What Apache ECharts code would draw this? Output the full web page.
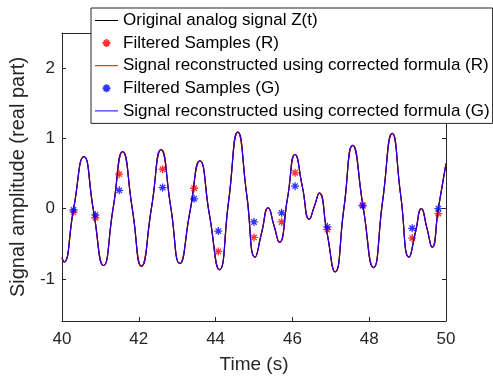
<!DOCTYPE html>
<html>
<head>
<meta charset="utf-8">
<script src="https://cdn.jsdelivr.net/npm/echarts@6/dist/echarts.min.js"></script>
<style>
  html, body { margin: 0; padding: 0; background: #fff; }
  #chart { width: 493px; height: 379px; }
</style>
</head>
<body>
<div id="chart"></div>
<script>
// analog signal Z(t) (peaks, troughs and crossings)
var sigT = [40.00, 40.05, 40.30, 40.57, 40.82, 41.08, 41.33, 41.58, 41.83, 42.07,
            42.33, 42.58, 42.83, 43.07, 43.33, 43.59, 43.84, 44.10, 44.34, 44.58,
            44.81, 45.03, 45.20, 45.37, 45.52, 45.66, 45.87, 46.07, 46.26, 46.44,
            46.57, 46.70, 46.90, 47.11, 47.34, 47.57, 47.84, 48.11, 48.35, 48.60,
            48.82, 49.04, 49.20, 49.36, 49.50, 49.64, 49.80, 50.00];
var sigZ = [-0.70, -0.76, -0.01, 0.74, -0.03, -0.81, 0.00, 0.81, 0.00, -0.82,
            0.01, 0.84, 0.03, -0.78, -0.05, 0.68, -0.09, -0.87, 0.11, 1.09,
            0.20, -0.69, -0.34, 0.01, -0.24, -0.48, 0.14, 0.77, 0.31, -0.15,
            0.03, 0.22, -0.34, -0.90, 0.00, 0.90, 0.03, -0.84, 0.11, 1.07,
            0.19, -0.69, -0.35, 0.00, -0.27, -0.55, 0.00, 0.64];

// filtered samples
var sampT = [40.30, 40.87, 41.49, 42.62, 43.44, 44.07, 45.00, 45.72, 46.07, 46.91, 47.83, 49.12, 49.80];
var sampR = [-0.05, -0.13, 0.49, 0.56, 0.29, -0.61, -0.41, -0.19, 0.51, -0.30, 0.05, -0.42, -0.07];
var sampG = [-0.02, -0.09, 0.26, 0.30, 0.14, -0.32, -0.19, -0.06, 0.32, -0.26, 0.04, -0.28, 0.00];

var xTicks = [40, 42, 44, 46, 48, 50];
var yTicks = [-1, 0, 1, 2];

function zip(a, b) {
    var out = [];
    for (var i = 0; i < a.length; i++) out.push([a[i], b[i]]);
    return out;
}

var FONT = 'Liberation Sans';
var AX = '#262626';
// MATLAB style '*' marker
var STAR = 'path://M0,5L10,5M5,0L5,10M1.6,1.6L8.4,8.4M8.4,1.6L1.6,8.4';
// thin bar used as legend icon of the lines
var BAR = 'path://M0,0H23V1H0Z';

var names = [
    'Original analog signal Z(t)',
    'Filtered Samples (R)',
    'Signal reconstructed using corrected formula (R)',
    'Filtered Samples (G)',
    'Signal reconstructed using corrected formula (G)'
];

function xAx(pos) {
    return {
        type: 'value', position: pos, min: 40, max: 50,
        axisLine: { show: true, onZero: false, lineStyle: { color: AX, width: 1 } },
        axisTick: { show: true, inside: true, length: 4, customValues: xTicks, lineStyle: { color: AX } },
        axisLabel: { show: pos === 'bottom', customValues: xTicks, margin: 10,
                     fontFamily: FONT, fontSize: 17, color: AX },
        splitLine: { show: false },
        name: pos === 'bottom' ? 'Time (s)' : '',
        nameLocation: 'middle', nameGap: 34,
        nameTextStyle: { fontFamily: FONT, fontSize: 19, color: AX }
    };
}
function yAx(pos) {
    return {
        type: 'value', position: pos, min: -1.6, max: 2.5,
        axisLine: { show: true, onZero: false, lineStyle: { color: AX, width: 1 } },
        axisTick: { show: true, inside: true, length: 4, customValues: yTicks, lineStyle: { color: AX } },
        axisLabel: { show: pos === 'left', customValues: yTicks, margin: 7,
                     fontFamily: FONT, fontSize: 17, color: AX },
        splitLine: { show: false },
        name: pos === 'left' ? 'Signal amplitude (real part)' : '',
        nameLocation: 'middle', nameGap: 24,
        nameTextStyle: { fontFamily: FONT, fontSize: 20, color: AX }
    };
}

var chart = echarts.init(document.getElementById('chart'));
chart.setOption({
    animation: false,
    backgroundColor: '#fff',
    grid: { left: 62, right: 47, top: 33, bottom: 58 },
    xAxis: [xAx('bottom'), xAx('top')],
    yAxis: [yAx('left'), yAx('right')],
    legend: {
        data: [
            { name: names[0], icon: BAR, itemStyle: { color: '#000' } },
            { name: names[1] },
            { name: names[2], icon: BAR, itemStyle: { color: '#ff0000' } },
            { name: names[3] },
            { name: names[4], icon: BAR, itemStyle: { color: '#0000ff' } }
        ],
        orient: 'vertical', left: 91, top: 8,
        padding: [4, 3, 4, 4], itemGap: 5.6, itemWidth: 23, itemHeight: 8,
        symbolKeepAspect: true,
        backgroundColor: '#fff', borderColor: AX, borderWidth: 1,
        textStyle: { fontFamily: FONT, fontSize: 17, color: '#000' },
        selectedMode: false, z: 10
    },
    series: [
        {
            name: names[0], type: 'line', data: zip(sigT, sigZ),
            smooth: 0.55, symbol: 'none', lineStyle: { color: '#000', width: 1.2 }, z: 2
        },
        {
            name: names[1], type: 'scatter', data: zip(sampT, sampR),
            symbol: STAR, symbolSize: 8,
            itemStyle: { color: '#ff0000', borderColor: '#ff0000', borderWidth: 1.3 }, z: 3
        },
        {
            name: names[2], type: 'line', data: zip(sigT, sigZ),
            smooth: 0.55, symbol: 'none', lineStyle: { color: '#ff0000', width: 1.2 }, z: 4
        },
        {
            name: names[3], type: 'scatter', data: zip(sampT, sampG),
            symbol: STAR, symbolSize: 8,
            itemStyle: { color: '#0000ff', borderColor: '#0000ff', borderWidth: 1.3 }, z: 5
        },
        {
            name: names[4], type: 'line', data: zip(sigT, sigZ),
            smooth: 0.55, symbol: 'none', lineStyle: { color: '#0000ff', width: 1 }, z: 6
        }
    ]
});
</script>
</body>
</html>
